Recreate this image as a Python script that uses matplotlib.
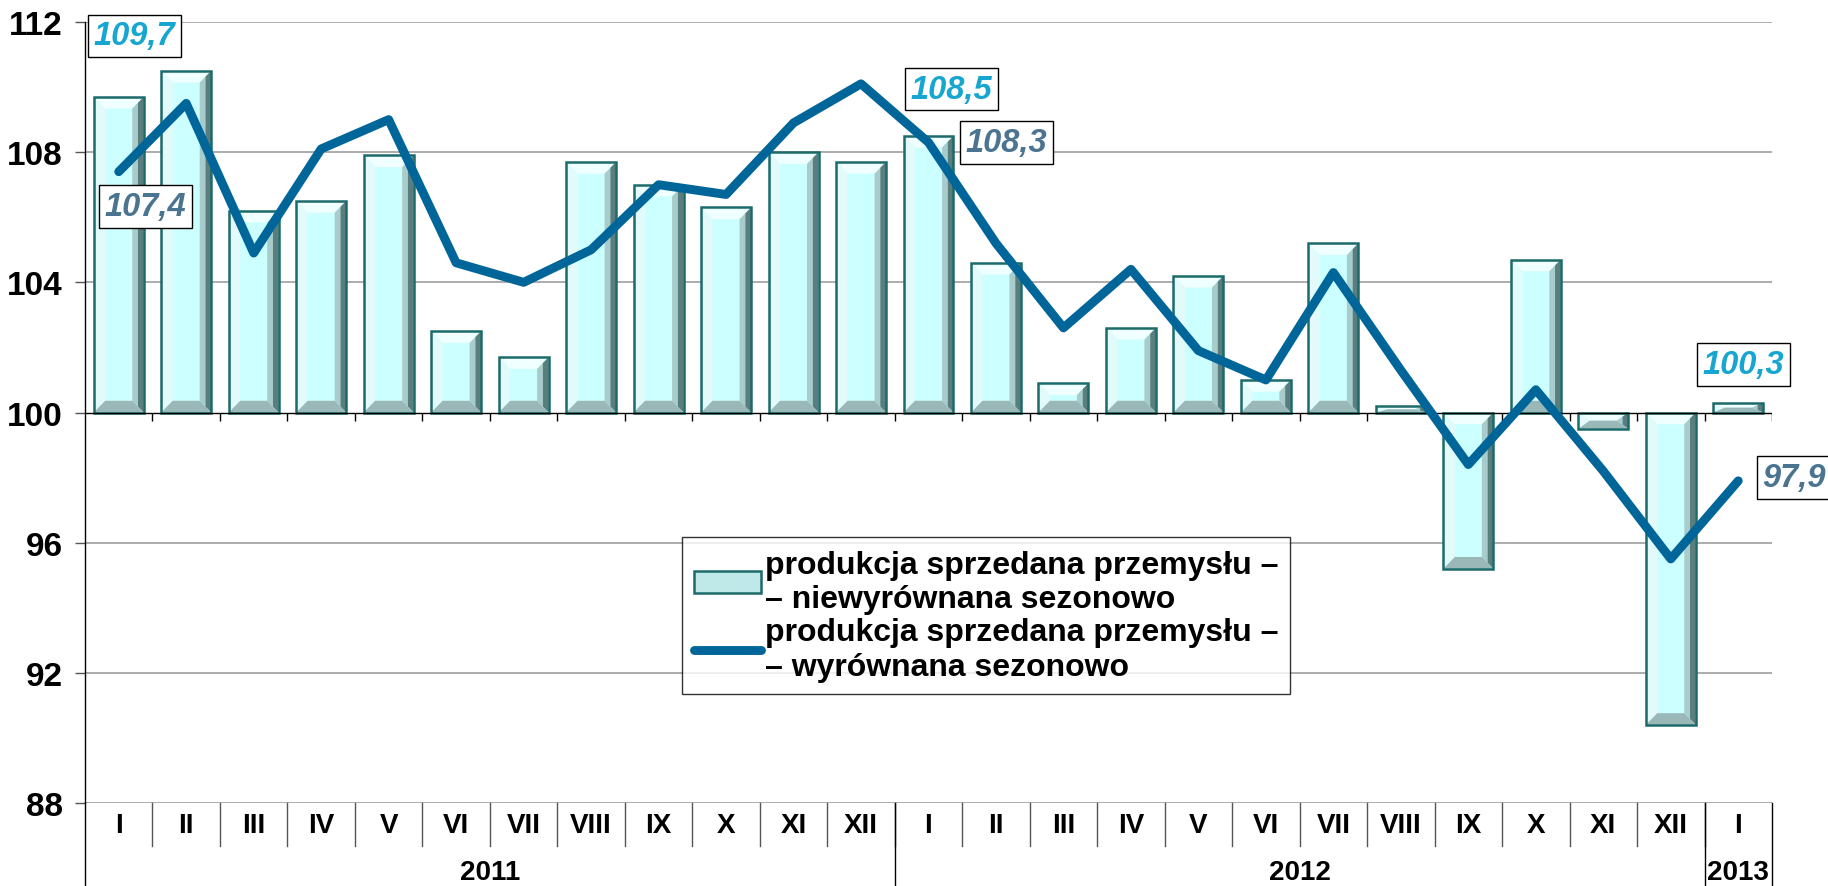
import matplotlib
matplotlib.use("Agg")
import matplotlib.pyplot as plt
from matplotlib.patches import Polygon, Rectangle
from matplotlib.lines import Line2D
import matplotlib.transforms as mtransforms

plt.rcParams['font.family'] = ['Liberation Sans', 'DejaVu Sans']
plt.rcParams['font.weight'] = 'bold'

# data
months = ['I', 'II', 'III', 'IV', 'V', 'VI', 'VII', 'VIII', 'IX', 'X', 'XI', 'XII',
          'I', 'II', 'III', 'IV', 'V', 'VI', 'VII', 'VIII', 'IX', 'X', 'XI', 'XII',
          'I']
years = ['2011', '2012', '2013']
year_len = [12, 12, 1]
unadjusted = [109.7, 110.5, 106.2, 106.5, 107.9, 102.5, 101.7, 107.7, 107.0, 106.3, 108.0, 107.7,
              108.5, 104.6, 100.9, 102.6, 104.2, 101.0, 105.2, 100.2, 95.2, 104.7, 99.5, 90.4,
              100.3]
adjusted = [107.4, 109.5, 104.9, 108.1, 109.0, 104.6, 104.0, 105.0, 107.0, 106.7, 108.9, 110.1,
            108.3, 105.2, 102.6, 104.4, 101.9, 101.0, 104.3, 101.3, 98.4, 100.7, 98.2, 95.5,
            97.9]
label_unadj = ['109,7', '108,5', '100,3']
label_adj = ['107,4', '108,3', '97,9']
label_idx = [0, 12, 24]
base = 100

line_color = '#006699'
cyan_lbl = '#16A6CF'
grey_lbl = '#4A7490'

fig = plt.figure(figsize=(18.28, 8.87), dpi=100)
ax = fig.add_axes([85 / 1828, 1 - 804 / 887, (1772 - 85) / 1828, (804 - 23) / 887])
n = len(months)
x = list(range(n))
ax.set_xlim(-0.5, n - 0.5)
ax.set_ylim(88, 112)

# grid
for yv in [88, 92, 96, 104, 108, 112]:
    ax.axhline(yv, color='#a6a6a6', lw=1.3, zorder=0)

bars = ax.bar(x, [v - base for v in unadjusted], bottom=base, width=0.74,
              color='#ccffff', edgecolor='none', zorder=2)

# bevel shading for the 3D look
bx, by = 0.17, 0.36
for b in bars:
    x0 = b.get_x()
    x1 = x0 + b.get_width()
    y0 = min(b.get_y(), b.get_y() + b.get_height())
    y1 = max(b.get_y(), b.get_y() + b.get_height())
    hy = min(by, (y1 - y0) / 2)
    hm = hy / 2
    bm = bx / 2
    faces = [
        ([(x0, y1), (x1, y1), (x1 - bx, y1 - hy), (x0 + bx, y1 - hy)], '#f0ffff'),
        ([(x0, y0), (x0, y1), (x0 + bx, y1 - hy), (x0 + bx, y0 + hy)], '#e2fafa'),
        ([(x1 - bm, y0 + hm), (x1 - bm, y1 - hm), (x1 - bx, y1 - hy), (x1 - bx, y0 + hy)], '#a8cccc'),
        ([(x1, y0), (x1, y1), (x1 - bm, y1 - hm), (x1 - bm, y0 + hm)], '#5a7d7d'),
        ([(x0, y0), (x1, y0), (x1 - bx, y0 + hy), (x0 + bx, y0 + hy)], '#9ab8b8'),
    ]
    for pts, c in faces:
        ax.add_patch(Polygon(pts, closed=True, facecolor=c, edgecolor='none', zorder=2.1))
    ax.add_patch(Rectangle((x0, y0), x1 - x0, y1 - y0, facecolor='none',
                           edgecolor='#1d6a6a', lw=1.8, zorder=2.2))

# axis line at 100 with small ticks
ax.axhline(base, color='black', lw=1.0, zorder=2.5)
ax.vlines([i + 0.5 for i in range(n)], base - 0.25, base, color='black', lw=1.0, zorder=2.5)

ax.plot(x, adjusted, color=line_color, lw=6.4, solid_capstyle='round',
        solid_joinstyle='round', zorder=3)

# value labels
box = dict(boxstyle='square,pad=0.18', facecolor='white', edgecolor='black', lw=1.0)
off_unadj = [(0.23, 1.87), (0.34, 1.44), (0.08, 1.18)]
off_adj = [(0.40, -1.06), (1.16, 0.0), (0.83, 0.1)]
for k, i in enumerate(label_idx):
    ax.text(i + off_unadj[k][0], unadjusted[i] + off_unadj[k][1], label_unadj[k],
            color=cyan_lbl, fontsize=23.5, fontweight='bold', style='italic',
            ha='center', va='center', bbox=box, zorder=5)
    ax.text(i + off_adj[k][0], adjusted[i] + off_adj[k][1], label_adj[k],
            color=grey_lbl, fontsize=23.5, fontweight='bold', style='italic',
            ha='center', va='center', bbox=box, zorder=5, clip_on=False)

# axes styling
for s in ['top', 'right', 'bottom']:
    ax.spines[s].set_visible(False)
ax.spines['left'].set_color('black')
ax.spines['left'].set_linewidth(1.0)
ax.set_yticks([88, 92, 96, 100, 104, 108, 112])
ax.tick_params(axis='y', length=7, width=1, pad=9, labelsize=24, color='#555555')
for t in ax.get_yticklabels():
    t.set_fontweight('bold')
ax.set_xticks([])

# category axis below the plot
trans = mtransforms.blended_transform_factory(ax.transData, ax.transAxes)
for i, m in enumerate(months):
    ax.text(i, -0.028, m, transform=trans, ha='center', va='center',
            fontsize=20, fontweight='bold')
for i in range(n - 1):
    ax.plot([i + 0.5, i + 0.5], [0, -0.055], transform=trans, color='#555555',
            lw=1.0, clip_on=False)
start = 0
bounds = [-0.5]
for y, ln in zip(years, year_len):
    ax.text(start + (ln - 1) / 2, -0.088, y, transform=trans, ha='center', va='center',
            fontsize=20, fontweight='bold')
    start += ln
    bounds.append(start - 0.5)
for bnd in bounds:
    ax.plot([bnd, bnd], [0, -0.11], transform=trans, color='black', lw=1.0, clip_on=False)

# legend
h_bar = Rectangle((0, 0), 1, 1, facecolor='#bfe8e8', edgecolor='#1d6a6a', lw=1.8)
h_line = Line2D([], [], color=line_color, lw=6.4, solid_capstyle='round')
leg = ax.legend([h_bar, h_line],
                ['produkcja sprzedana przemysłu –\n– niewyrównana sezonowo',
                 'produkcja sprzedana przemysłu –\n– wyrównana sezonowo'],
                loc='upper left', bbox_to_anchor=(0.354, 0.34), prop={'size': 23, 'weight': 'bold'},
                frameon=True, fancybox=False, edgecolor='black', handlelength=2.1,
                handletextpad=0.1, borderpad=0.38, labelspacing=0.1, borderaxespad=0)
leg.get_frame().set_linewidth(1.0)
leg.set_zorder(4)

fig.savefig('out.png', dpi=100)
